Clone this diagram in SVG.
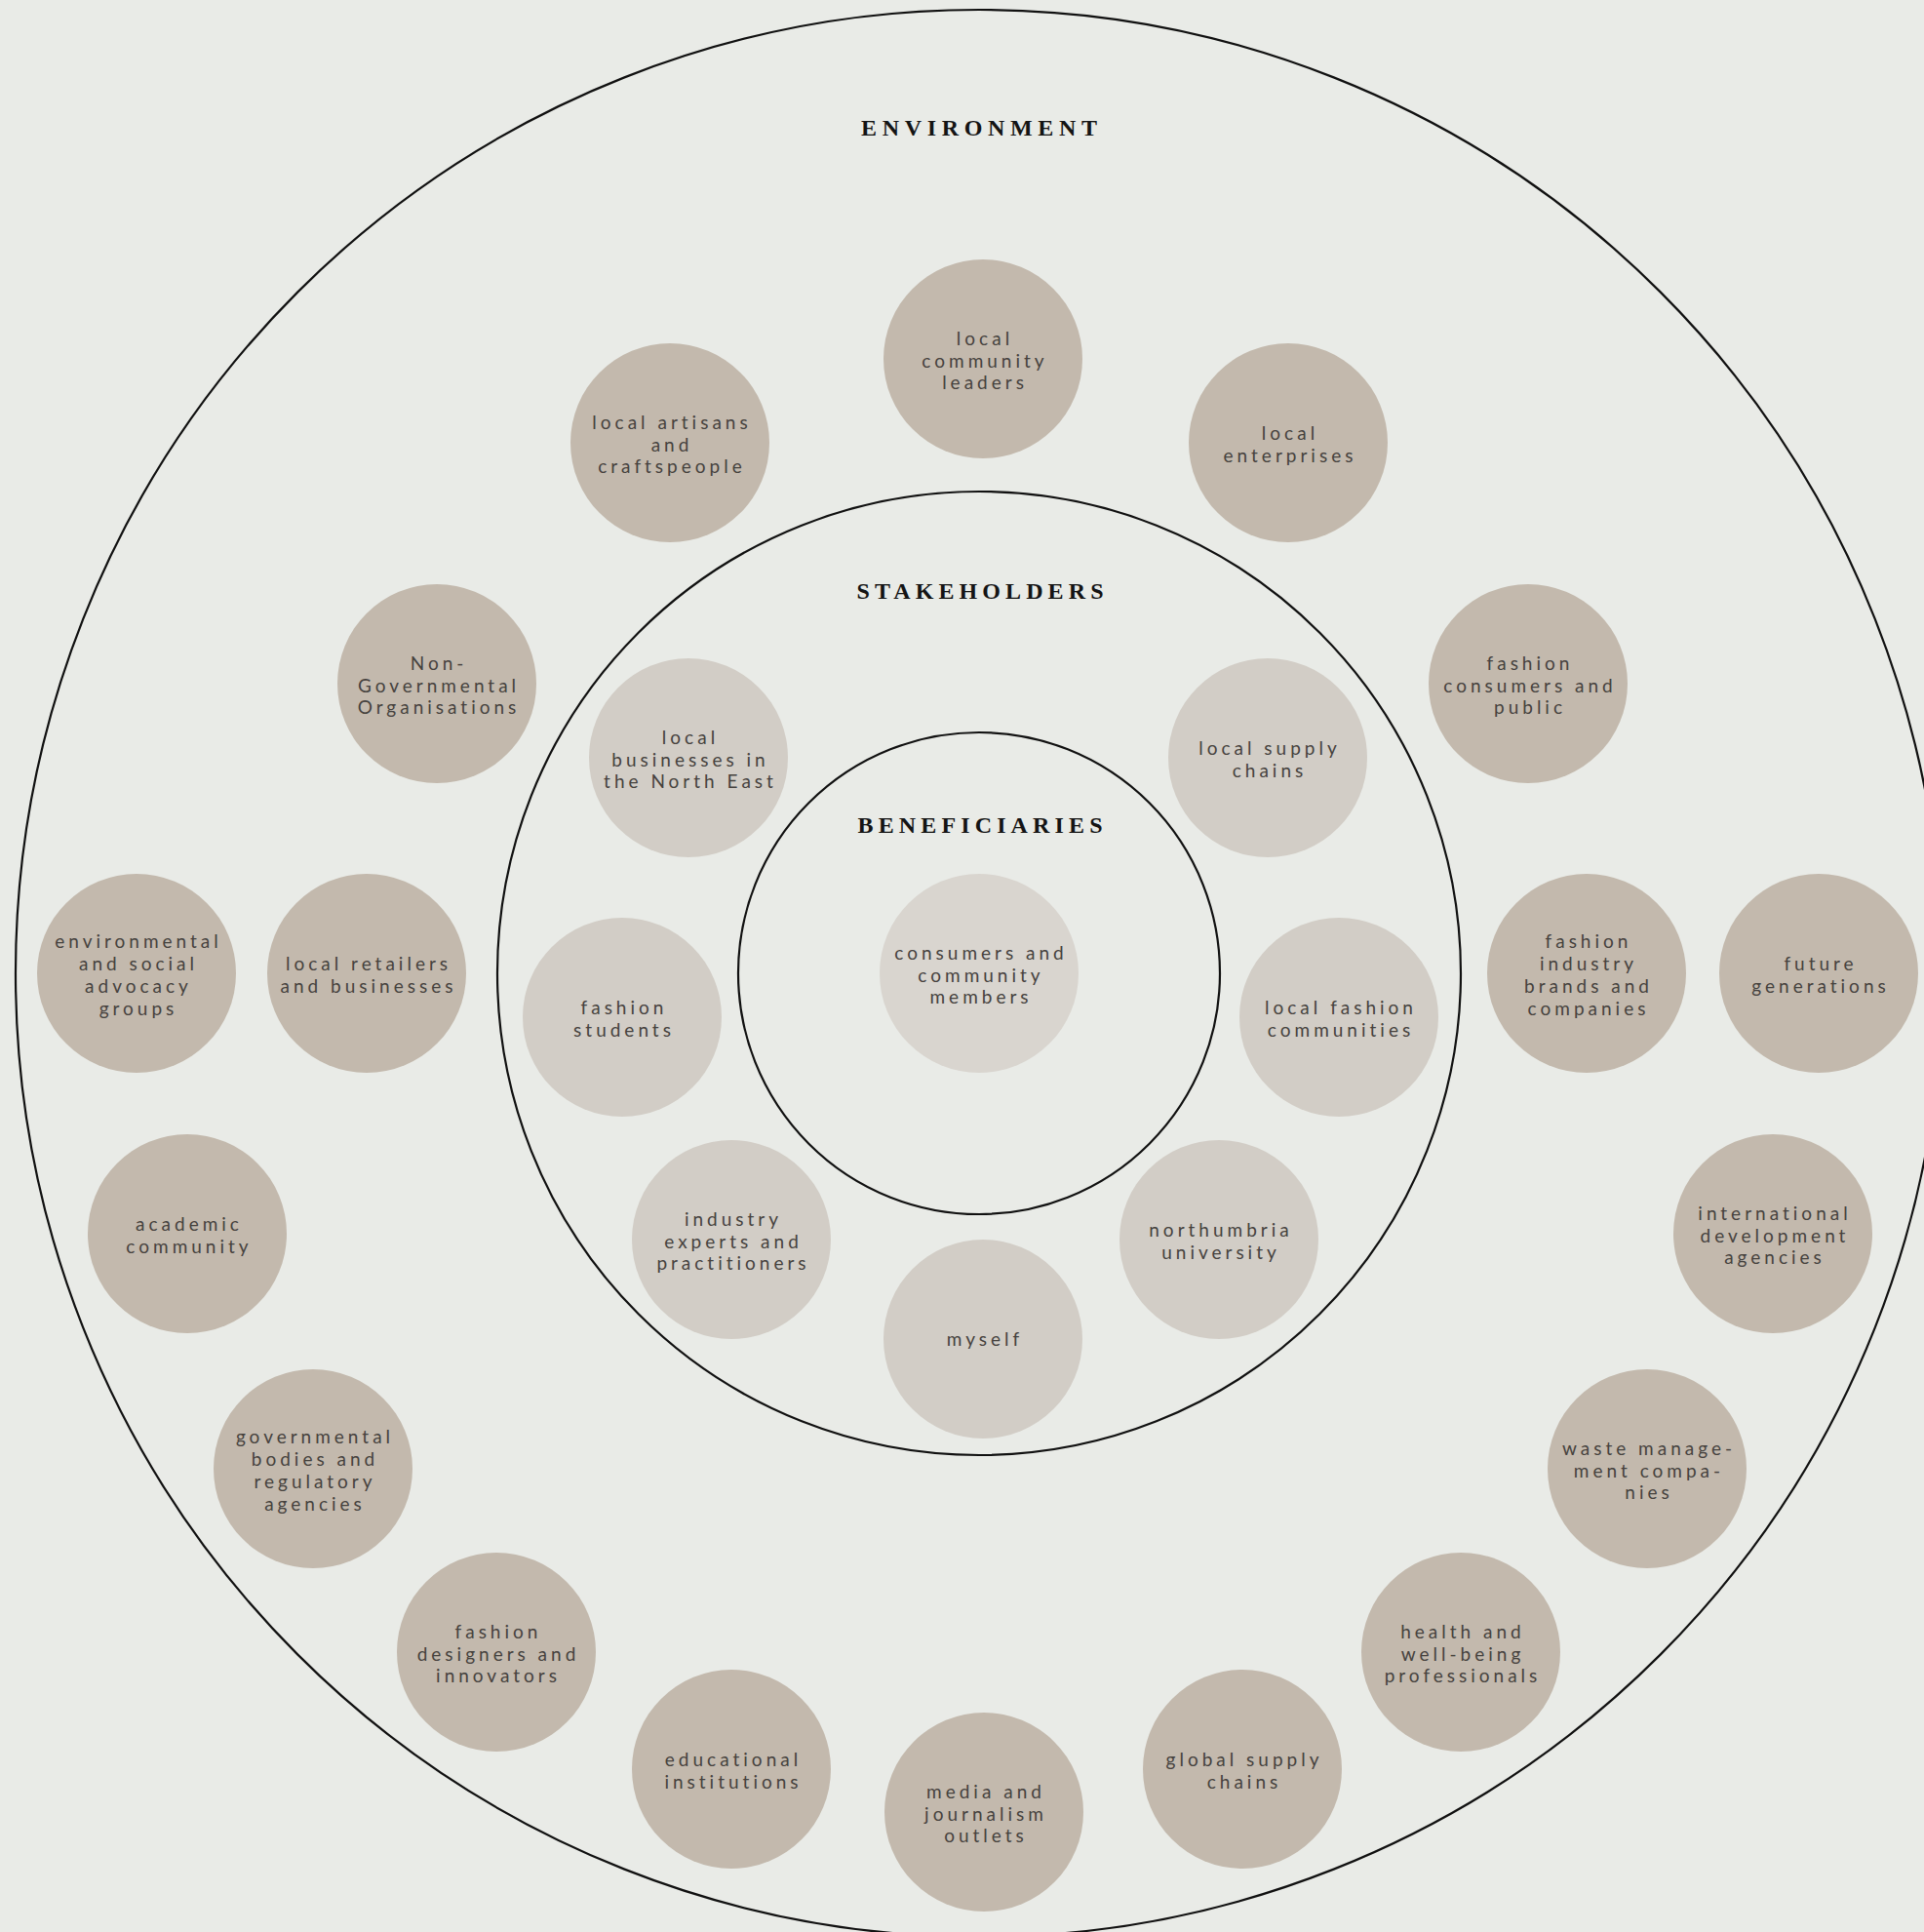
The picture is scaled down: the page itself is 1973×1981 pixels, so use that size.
<svg xmlns="http://www.w3.org/2000/svg" width="1973" height="1981" viewBox="0 0 1973 1981">
  <style>
    .ring { fill: none; stroke: #111; stroke-width: 2.2; }
    .env { fill: #c3b9ad; }
    .stk { fill: #d2cdc6; }
    .ben { fill: #d9d5cf; }
    .lbl { font-family: Lato, "Open Sans", "Liberation Sans", sans-serif; font-size: 19px; letter-spacing: 4px; fill: #46423e; text-anchor: middle; }
    .title { font-family: "Liberation Serif", "DejaVu Serif", serif; font-weight: bold; font-size: 24px; fill: #141414; text-anchor: middle; }
  </style>
  <rect width="1973" height="1981" fill="#e9ebe7"/>

  <!-- concentric rings -->
  <g id="rings">
    <circle class="ring" cx="1004" cy="998" r="988"/>
    <circle class="ring" cx="1004" cy="998" r="494"/>
    <circle class="ring" cx="1004" cy="998" r="247"/>
  </g>

  <!-- ring titles -->
  <g id="titles">
    <text class="title" x="1004" y="139" textLength="242" lengthAdjust="spacing">ENVIRONMENT</text>
    <text class="title" x="1005" y="614" textLength="253" lengthAdjust="spacing">STAKEHOLDERS</text>
    <text class="title" x="1005" y="854" textLength="251" lengthAdjust="spacing">BENEFICIARIES</text>
  </g>

  <!-- beneficiaries -->
  <g id="n-consumers-community">
    <circle class="ben" cx="1004" cy="998" r="102"/>
    <text class="lbl" x="1006" y="983.8"><tspan x="1006">consumers and</tspan><tspan x="1006" dy="22.7">community</tspan><tspan x="1006" dy="22.7">members</tspan></text>
  </g>

  <!-- stakeholders -->
  <g id="n-local-businesses-ne">
    <circle class="stk" cx="706" cy="777" r="102"/>
    <text class="lbl" x="708" y="762.8"><tspan x="708">local</tspan><tspan x="708" dy="22.7">businesses in</tspan><tspan x="708" dy="22.7">the North East</tspan></text>
  </g>
  <g id="n-local-supply-chains">
    <circle class="stk" cx="1300" cy="777" r="102"/>
    <text class="lbl" x="1302" y="774.15"><tspan x="1302">local supply</tspan><tspan x="1302" dy="22.7">chains</tspan></text>
  </g>
  <g id="n-fashion-students">
    <circle class="stk" cx="638" cy="1043" r="102"/>
    <text class="lbl" x="640" y="1040.15"><tspan x="640">fashion</tspan><tspan x="640" dy="22.7">students</tspan></text>
  </g>
  <g id="n-local-fashion-communities">
    <circle class="stk" cx="1373" cy="1043" r="102"/>
    <text class="lbl" x="1375" y="1040.15"><tspan x="1375">local fashion</tspan><tspan x="1375" dy="22.7">communities</tspan></text>
  </g>
  <g id="n-industry-experts">
    <circle class="stk" cx="750" cy="1271" r="102"/>
    <text class="lbl" x="752" y="1256.8"><tspan x="752">industry</tspan><tspan x="752" dy="22.7">experts and</tspan><tspan x="752" dy="22.7">practitioners</tspan></text>
  </g>
  <g id="n-northumbria">
    <circle class="stk" cx="1250" cy="1271" r="102"/>
    <text class="lbl" x="1252" y="1268.15"><tspan x="1252">northumbria</tspan><tspan x="1252" dy="22.7">university</tspan></text>
  </g>
  <g id="n-myself">
    <circle class="stk" cx="1008" cy="1373" r="102"/>
    <text class="lbl" x="1010" y="1379.5">myself</text>
  </g>

  <!-- environment -->
  <g id="n-community-leaders">
    <circle class="env" cx="1008" cy="368" r="102"/>
    <text class="lbl" x="1010" y="353.8"><tspan x="1010">local</tspan><tspan x="1010" dy="22.7">community</tspan><tspan x="1010" dy="22.7">leaders</tspan></text>
  </g>
  <g id="n-artisans">
    <circle class="env" cx="687" cy="454" r="102"/>
    <text class="lbl" x="689" y="439.8"><tspan x="689">local artisans</tspan><tspan x="689" dy="22.7">and</tspan><tspan x="689" dy="22.7">craftspeople</tspan></text>
  </g>
  <g id="n-local-enterprises">
    <circle class="env" cx="1321" cy="454" r="102"/>
    <text class="lbl" x="1323" y="451.15"><tspan x="1323">local</tspan><tspan x="1323" dy="22.7">enterprises</tspan></text>
  </g>
  <g id="n-ngo">
    <circle class="env" cx="448" cy="701" r="102"/>
    <text class="lbl" x="450" y="686.8"><tspan x="450">Non-</tspan><tspan x="450" dy="22.7">Governmental</tspan><tspan x="450" dy="22.7">Organisations</tspan></text>
  </g>
  <g id="n-fashion-consumers">
    <circle class="env" cx="1567" cy="701" r="102"/>
    <text class="lbl" x="1569" y="686.8"><tspan x="1569">fashion</tspan><tspan x="1569" dy="22.7">consumers and</tspan><tspan x="1569" dy="22.7">public</tspan></text>
  </g>
  <g id="n-advocacy-groups">
    <circle class="env" cx="140" cy="998" r="102"/>
    <text class="lbl" x="142" y="972.45"><tspan x="142">environmental</tspan><tspan x="142" dy="22.7">and social</tspan><tspan x="142" dy="22.7">advocacy</tspan><tspan x="142" dy="22.7">groups</tspan></text>
  </g>
  <g id="n-local-retailers">
    <circle class="env" cx="376" cy="998" r="102"/>
    <text class="lbl" x="378" y="995.15"><tspan x="378">local retailers</tspan><tspan x="378" dy="22.7">and businesses</tspan></text>
  </g>
  <g id="n-industry-brands">
    <circle class="env" cx="1627" cy="998" r="102"/>
    <text class="lbl" x="1629" y="972.45"><tspan x="1629">fashion</tspan><tspan x="1629" dy="22.7">industry</tspan><tspan x="1629" dy="22.7">brands and</tspan><tspan x="1629" dy="22.7">companies</tspan></text>
  </g>
  <g id="n-future-generations">
    <circle class="env" cx="1865" cy="998" r="102"/>
    <text class="lbl" x="1867" y="995.15"><tspan x="1867">future</tspan><tspan x="1867" dy="22.7">generations</tspan></text>
  </g>
  <g id="n-academic-community">
    <circle class="env" cx="192" cy="1265" r="102"/>
    <text class="lbl" x="194" y="1262.15"><tspan x="194">academic</tspan><tspan x="194" dy="22.7">community</tspan></text>
  </g>
  <g id="n-development-agencies">
    <circle class="env" cx="1818" cy="1265" r="102"/>
    <text class="lbl" x="1820" y="1250.8"><tspan x="1820">international</tspan><tspan x="1820" dy="22.7">development</tspan><tspan x="1820" dy="22.7">agencies</tspan></text>
  </g>
  <g id="n-governmental-bodies">
    <circle class="env" cx="321" cy="1506" r="102"/>
    <text class="lbl" x="323" y="1480.45"><tspan x="323">governmental</tspan><tspan x="323" dy="22.7">bodies and</tspan><tspan x="323" dy="22.7">regulatory</tspan><tspan x="323" dy="22.7">agencies</tspan></text>
  </g>
  <g id="n-waste-management">
    <circle class="env" cx="1689" cy="1506" r="102"/>
    <text class="lbl" x="1691" y="1491.8"><tspan x="1691">waste manage-</tspan><tspan x="1691" dy="22.7">ment compa-</tspan><tspan x="1691" dy="22.7">nies</tspan></text>
  </g>
  <g id="n-designers">
    <circle class="env" cx="509" cy="1694" r="102"/>
    <text class="lbl" x="511" y="1679.8"><tspan x="511">fashion</tspan><tspan x="511" dy="22.7">designers and</tspan><tspan x="511" dy="22.7">innovators</tspan></text>
  </g>
  <g id="n-health">
    <circle class="env" cx="1498" cy="1694" r="102"/>
    <text class="lbl" x="1500" y="1679.8"><tspan x="1500">health and</tspan><tspan x="1500" dy="22.7">well-being</tspan><tspan x="1500" dy="22.7">professionals</tspan></text>
  </g>
  <g id="n-educational">
    <circle class="env" cx="750" cy="1814" r="102"/>
    <text class="lbl" x="752" y="1811.15"><tspan x="752">educational</tspan><tspan x="752" dy="22.7">institutions</tspan></text>
  </g>
  <g id="n-global-supply">
    <circle class="env" cx="1274" cy="1814" r="102"/>
    <text class="lbl" x="1276" y="1811.15"><tspan x="1276">global supply</tspan><tspan x="1276" dy="22.7">chains</tspan></text>
  </g>
  <g id="n-media">
    <circle class="env" cx="1009" cy="1858" r="102"/>
    <text class="lbl" x="1011" y="1843.8"><tspan x="1011">media and</tspan><tspan x="1011" dy="22.7">journalism</tspan><tspan x="1011" dy="22.7">outlets</tspan></text>
  </g>

  <!-- no connectors in this diagram -->
  <g id="connectors"/>
</svg>
